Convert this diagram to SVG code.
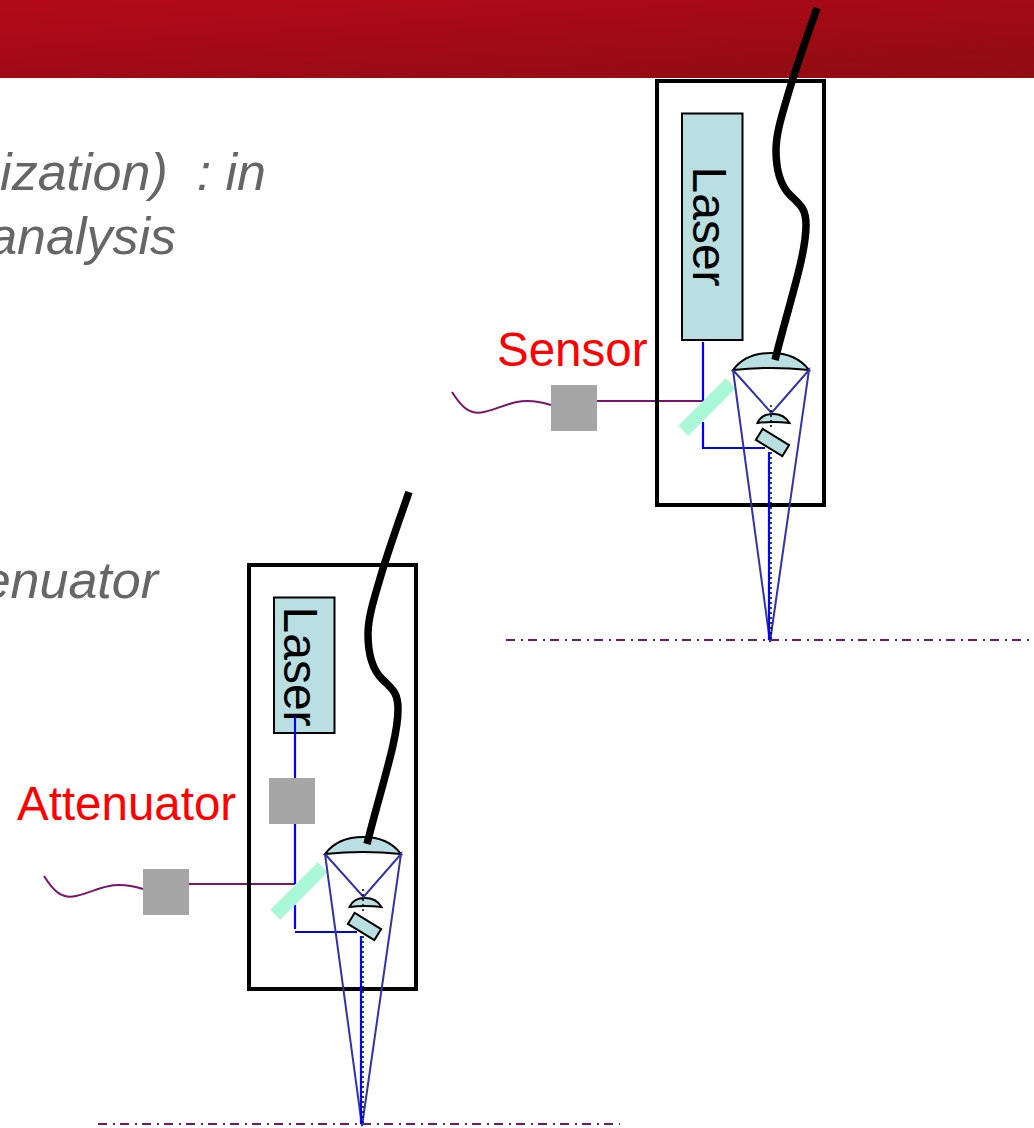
<svg xmlns="http://www.w3.org/2000/svg" width="1034" height="1128" viewBox="0 0 1034 1128">
<defs>
<linearGradient id="band" gradientUnits="userSpaceOnUse" x1="0" y1="0" x2="10" y2="153">
<stop offset="0" stop-color="#b40a1a"/>
<stop offset="0.5" stop-color="#a00a14"/>
<stop offset="1" stop-color="#8d0d11"/>
</linearGradient>
<g id="optics">
<path class="teal" d="M733 370C742 358 755 353 771 353C787 353 800 358 809 370Q771 366 733 370Z"/>
<path class="teal" d="M757.500 423C760 417 766 414 773 414C780 414 786 417 789.500 423Q773 421 757.500 423Z"/>
<rect class="teal" x="757" y="436" width="31" height="13" transform="rotate(31.500 772.500 442.500)"/>
<path class="navy" d="M733 370L770 642L809 370L771.500 413L733 370"/>
<path class="dots" d="M771 405V428M771 452V640"/>
<path class="blue" d="M769 452V640"/>
</g>
</defs>
<style>
text{font-family:"Liberation Sans",Arial,sans-serif;font-size:47.500px}
.gray{fill:#666;font-style:italic;text-anchor:end;font-size:52px;white-space:pre}
.red{fill:#f00}
.teal{fill:#b9dfe2;stroke:#000;stroke-width:2}
.navy{fill:none;stroke:#3333a8;stroke-width:2}
.blue{fill:none;stroke:#0000ff;stroke-width:2.200}
.dots{fill:none;stroke:#000;stroke-width:1.500;stroke-dasharray:2 3}
.purple{fill:none;stroke:#7c1270;stroke-width:2}
.axis{fill:none;stroke:#7c1270;stroke-width:2;stroke-dasharray:9 6 2 5}
.box{fill:none;stroke:#000;stroke-width:4}
.fiber{fill:none;stroke:#000;stroke-width:7.500}
.sq{fill:#a6a6a6}
.mirror{fill:#aaf8d8}
.laser{font-size:48px}
</style>

<rect id="header" x="0" y="0" width="1034" height="78" fill="url(#band)"/>

<g id="slide-text">
<text class="gray" x="266" y="190" xml:space="preserve">ization)  : in</text>
<text class="gray" x="176" y="254">analysis</text>
<text class="gray" x="158" y="598">enuator</text>
</g>

<g id="connectors">
<path class="purple" d="M452 392C462 408 470 415 484 412C505 408 517 394 551 405"/>
<path class="purple" d="M597 401H703"/>
<path class="blue" d="M703 342V401M703 422V448H765"/>
<path class="axis" d="M506 640H1030"/>
<path class="purple" d="M44 876C54 892 62 899 76 896C97 892 109 878 143 889"/>
<path class="purple" d="M189 884H295"/>
<path class="blue" d="M295 824V884M295 905V929M295 932H357"/>
<path class="axis" d="M98 1124H620"/>
</g>

<g id="sensor-unit">
<rect class="box" x="657" y="81" width="167" height="424"/>
<rect class="teal" x="682" y="113.500" width="60.500" height="226.500"/>
<text class="laser" transform="translate(692.500 166.500) rotate(90)">Laser</text>
<rect class="mirror" x="673.500" y="400" width="67" height="14" transform="rotate(-45 707 407)"/>
<use href="#optics"/>
<path class="fiber" d="M817 8C807 37 795 70 787 98C781 118 776 135 776 150C776 170 780 185 790 195C800 205 806 208 806 225C806 255 790 300 775 360"/>
</g>

<g id="sensor"><rect class="sq" x="551" y="385" width="46" height="46"/><text class="red" x="497" y="366">Sensor</text></g>

<g id="attenuator-unit">
<rect class="box" x="249" y="565" width="167" height="424"/>
<rect class="teal" x="274" y="597.500" width="60.500" height="135.500"/>
<text class="laser" transform="translate(283.500 606.500) rotate(90)">Laser</text>
<path class="blue" d="M295 716V778"/>
<rect class="mirror" x="265.500" y="884" width="67" height="14" transform="rotate(-45 299 891)"/>
<use href="#optics" transform="translate(-408 484)"/>
<path class="fiber" d="M409 492C399 521 387 554 379 582C373 602 368 619 368 634C368 654 372 669 382 679C392 689 398 692 398 709C398 739 382 784 367 844"/>
</g>

<g id="attenuator"><rect class="sq" x="143" y="869" width="46" height="46"/><rect class="sq" x="269" y="778" width="46" height="46"/><text class="red" x="17" y="820">Attenuator</text></g>
</svg>
